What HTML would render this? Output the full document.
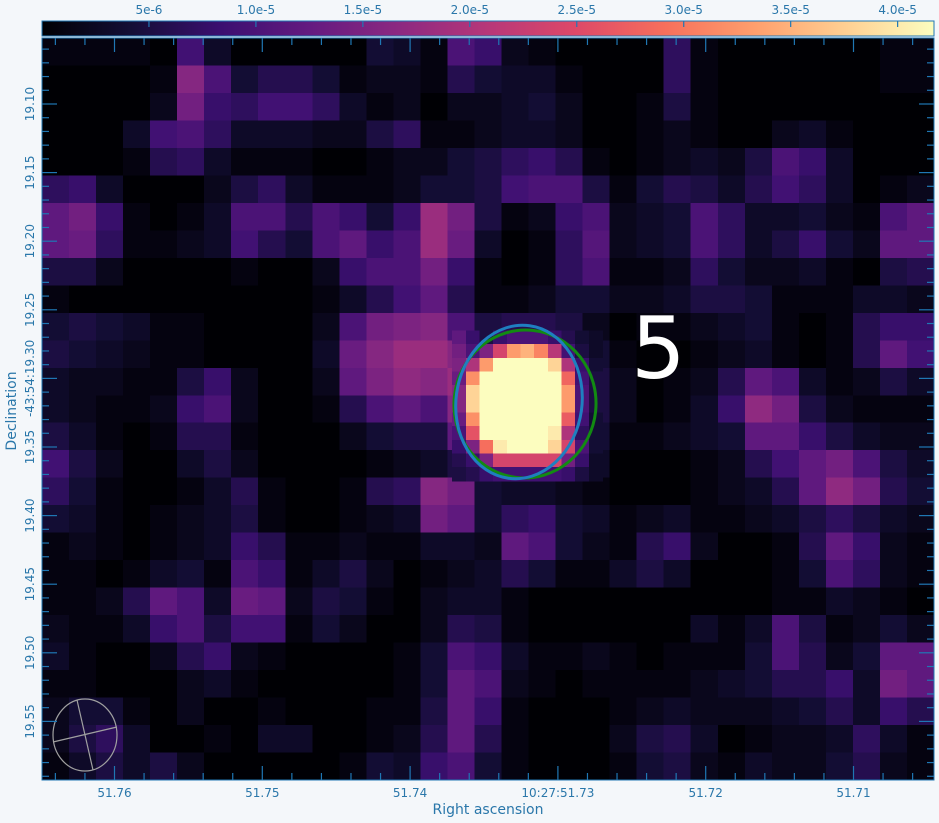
<!DOCTYPE html>
<html><head><meta charset="utf-8"><style>
html,body{margin:0;padding:0;background:#f4f7fa;}
svg{display:block;font-family:"DejaVu Sans","Liberation Sans",sans-serif;}
</style></head><body>
<svg id="chart" width="939" height="823" viewBox="0 0 939 823" xmlns="http://www.w3.org/2000/svg">
<defs>
<linearGradient id="magma" x1="0" x2="1" y1="0" y2="0">
<stop offset="0" stop-color="#000004"/><stop offset="0.1" stop-color="#140e36"/><stop offset="0.2" stop-color="#3b0f70"/><stop offset="0.3" stop-color="#641a80"/><stop offset="0.4" stop-color="#8c2981"/><stop offset="0.5" stop-color="#b73779"/><stop offset="0.6" stop-color="#de4968"/><stop offset="0.7" stop-color="#f7705c"/><stop offset="0.8" stop-color="#fe9f6d"/><stop offset="0.9" stop-color="#fecf92"/><stop offset="1" stop-color="#fcfdbf"/>
</linearGradient>
<clipPath id="plotclip"><rect x="42" y="38" width="892" height="742"/></clipPath>
</defs>
<g id="cells" clip-path="url(#plotclip)"></g>
<g id="finecells" clip-path="url(#plotclip)"></g>
<g id="overlay" clip-path="url(#plotclip)">
<ellipse cx="525" cy="404" rx="71" ry="74" transform="rotate(6 525 404)" fill="none" stroke="#128a12" stroke-width="3"/>
<ellipse cx="519" cy="402" rx="63" ry="77" transform="rotate(8 519 402)" fill="none" stroke="#1f7fc0" stroke-width="3"/>
<text x="631" y="378" font-size="86" fill="#ffffff">5</text>
<g>
<ellipse cx="85" cy="735" rx="32" ry="36" fill="none" stroke="#a0a0a0" stroke-width="1.2"/>
<line x1="77" y1="700" x2="93" y2="770" stroke="#a0a0a0" stroke-width="1.2"/>
<line x1="53" y1="742" x2="117" y2="727" stroke="#a0a0a0" stroke-width="1.2"/>
</g>
</g>
<rect x="42" y="38" width="892" height="742" fill="none" stroke="#1f77b4" stroke-width="1"/>
<g id="ticks"></g>
<g id="labels" font-size="12" fill="#2a77aa"></g>
<rect x="42" y="21" width="892" height="15" fill="url(#magma)" stroke="#1f77b4" stroke-width="1"/>
<g id="cbticks"></g>
<text x="16" y="411" font-size="14" fill="#2a77aa" text-anchor="middle" transform="rotate(-90 16 411)">Declination</text>
<text x="488" y="814" font-size="14" fill="#2a77aa" text-anchor="middle">Right ascension</text>
</svg>
<script>
// intensity grid in units of 1e-6 (33 columns x 27 rows)
const row0=[1,1,1,1,0,9,3,0,0,0,0,0,4,3,1,10,8,2,1,0,0,0,0,7,1,0,0,0,0,0,0,1,1];
const row1=[0,0,0,0,1,16,10,4,6,6,4,1,2,2,1,6,4,3,3,1,0,0,0,7,1,0,0,0,0,0,0,1,1];
const row2=[0,0,0,0,2,14,8,7,9,9,7,3,1,2,0,2,2,3,4,2,0,0,1,5,1,0,0,0,0,0,0,0,0];
const row3=[0,0,0,3,9,10,7,3,3,3,2,2,5,7,1,1,2,3,3,2,0,0,1,2,1,0,0,2,3,1,0,0,0];
const row4=[0,0,0,1,6,7,3,1,1,1,0,0,1,2,2,4,5,7,8,6,1,0,1,2,3,2,5,10,8,3,0,0,0];
const row5=[7,8,3,0,0,0,2,5,7,3,1,1,1,2,4,4,5,9,10,10,5,1,4,6,5,3,6,9,7,3,0,1,2];
const row6=[12,14,8,1,0,1,3,10,10,6,10,8,4,8,18,14,5,1,2,8,10,2,3,4,10,7,3,3,4,2,1,10,12];
const row7=[12,13,7,1,1,2,3,9,6,4,10,12,8,10,18,13,3,0,1,7,11,2,3,4,10,7,3,5,8,4,2,12,12];
const row8=[5,5,2,0,0,0,0,1,0,0,2,8,10,10,14,8,1,0,1,7,10,1,1,2,7,4,2,2,3,1,0,5,6];
const row9=[1,0,0,0,0,0,0,0,0,0,1,3,6,9,12,6,1,1,2,4,4,2,2,3,5,5,4,1,1,1,3,3,2];
const row10=[4,5,4,3,1,1,0,0,0,0,2,10,14,15,16,10,5,6,6,5,2,0,1,1,2,3,4,1,0,1,6,8,8];
const row11=[5,4,3,2,1,1,0,0,0,0,3,13,16,18,18,16,28,38,38,30,4,1,0,0,1,2,3,1,0,1,6,12,9];
const row12=[3,2,2,1,1,5,8,2,0,0,2,12,15,17,16,18,40,42,42,38,5,2,0,1,2,6,12,10,3,1,2,5,3];
const row13=[3,2,1,1,2,8,10,2,0,0,1,6,10,12,10,16,40,42,42,38,5,2,0,1,3,8,17,14,5,2,1,1,1];
const row14=[5,3,1,0,1,6,6,1,0,0,0,2,4,5,5,12,32,42,42,30,4,1,1,2,3,4,12,12,8,5,3,2,2];
const row15=[9,5,2,0,0,3,5,2,0,0,0,0,1,2,3,5,14,22,20,14,3,0,0,0,1,2,6,9,12,14,10,5,3];
const row16=[7,4,1,0,0,1,3,6,1,0,0,1,6,7,16,14,4,3,3,2,1,0,0,0,1,2,3,6,12,17,14,6,4];
const row17=[4,3,1,0,1,2,3,5,1,0,0,1,2,3,14,12,4,7,8,4,3,1,2,3,1,1,2,3,5,7,5,3,2];
const row18=[1,2,1,0,1,2,3,8,6,1,1,2,1,1,3,3,2,12,10,4,2,1,6,8,2,0,0,1,6,12,8,2,1];
const row19=[1,1,0,1,3,4,1,10,8,1,3,5,2,0,1,2,3,6,4,1,1,3,5,3,0,0,0,1,4,10,7,2,1];
const row20=[1,1,2,6,12,10,3,13,12,2,5,4,1,0,2,3,3,1,0,0,0,0,0,0,0,0,0,1,1,3,2,1,0];
const row21=[2,1,1,3,8,10,5,9,9,1,4,2,0,0,2,6,5,1,0,0,0,0,0,0,3,1,3,10,5,1,2,4,2];
const row22=[3,1,0,0,2,6,8,2,1,0,0,0,0,1,4,10,8,3,1,1,2,1,0,1,1,1,4,10,6,2,4,12,12];
const row23=[1,1,0,0,0,2,3,1,0,0,0,0,0,1,4,12,10,2,1,0,1,1,1,1,2,3,4,6,6,8,3,14,12];
const row24=[2,4,4,1,0,2,0,0,1,0,0,0,1,1,5,12,8,1,0,0,0,1,2,3,2,2,2,3,4,6,3,8,6];
const row25=[2,5,7,3,0,0,1,0,3,3,0,0,1,2,6,12,6,1,0,0,0,2,5,6,3,0,1,2,2,3,7,3,1];
const row26=[1,3,5,3,5,2,0,0,0,0,0,1,4,3,8,10,4,1,0,0,0,1,4,5,2,1,3,2,2,4,6,2,1];
const grid=[row0,row1,row2,row3,row4,row5,row6,row7,row8,row9,row10,row11,row12,row13,row14,row15,row16,row17,row18,row19,row20,row21,row22,row23,row24,row25,row26];
// native-resolution pixels around the bright source (units 1e-6), 11x11
const src0=[12,8,5,8,10,10,10,8,6,4,3];
const src1=[14,10,15,24,33,35,31,21,9,5,3];
const src2=[15,20,33,42,42,42,42,38,20,8,4];
const src3=[13,32,42,42,42,42,42,42,28,9,5];
const src4=[16,38,42,42,42,42,42,42,33,10,5];
const src5=[16,38,42,42,42,42,42,42,33,10,5];
const src6=[13,32,42,42,42,42,42,42,27,9,4];
const src7=[10,26,42,42,42,42,42,40,20,7,4];
const src8=[8,15,29,40,42,42,42,38,24,10,4];
const src9=[6,8,15,24,24,24,24,24,14,8,3];
const src10=[5,6,8,9,9,9,9,9,8,5,3];
const srcGrid=[src0,src1,src2,src3,src4,src5,src6,src7,src8,src9,src10];
const xTickLabels=["51.76","51.75","51.74","10:27:51.73","51.72","51.71"];
const yTickLabels=["19.10","19.15","19.20","19.25","-43:54:19.30","19.35","19.40","19.45","19.50","19.55"];
const cbTickValues=[5,10,15,20,25,30,35,40];
const cbTickLabels=["5e-6","1.0e-5","1.5e-5","2.0e-5","2.5e-5","3.0e-5","3.5e-5","4.0e-5"];

const NS="http://www.w3.org/2000/svg";
const PX0=42,PY0=38,PW=892,PH=742,VMAX=41.7;
const nCols=grid[0].length,nRows=grid.length;
const cw=PW/nCols,ch=PH/nRows;
const xCell=i=>PX0+i*cw, yCell=j=>PY0+j*ch;
const FINE=13.67, FX0=PX0+30*FINE, FY0=PY0+21.4*FINE;
const xFine=i=>FX0+i*FINE, yFine=j=>FY0+j*FINE;
const cbX=v=>42+v/VMAX*892;
const stops=[[0,0,4],[20,14,54],[59,15,112],[100,26,128],[140,41,129],[183,55,121],[222,73,104],[247,112,92],[254,159,109],[254,207,146],[252,253,191]];
function magma(v){let t=Math.max(0,Math.min(1,v/VMAX))*10;let k=Math.min(9,Math.floor(t));let f=t-k;const a=stops[k],b=stops[k+1];
return "rgb("+a.map((c,i)=>Math.round(c+(b[i]-c)*f)).join(",")+")";}
const cells=document.getElementById("cells");
for(let j=0;j<nRows;j++){for(let i=0;i<nCols;i++){
const r=document.createElementNS(NS,"rect");
r.setAttribute("x",xCell(i));r.setAttribute("y",yCell(j));
r.setAttribute("width",cw+0.6);r.setAttribute("height",ch+0.6);
r.setAttribute("fill",magma(grid[j][i]));


cells.appendChild(r);}}
cells.setAttribute("shape-rendering","crispEdges");
const fine=document.getElementById("finecells");
for(let j=0;j<srcGrid.length;j++){for(let i=0;i<srcGrid[j].length;i++){
const r=document.createElementNS(NS,"rect");
r.setAttribute("x",xFine(i));r.setAttribute("y",yFine(j));
r.setAttribute("width",FINE+0.5);r.setAttribute("height",FINE+0.5);
r.setAttribute("fill",magma(srcGrid[j][i]));


fine.appendChild(r);}}
fine.setAttribute("shape-rendering","crispEdges");

const ticks=document.getElementById("ticks");
function line(x1,y1,x2,y2){const l=document.createElementNS(NS,"line");
l.setAttribute("x1",x1);l.setAttribute("y1",y1);l.setAttribute("x2",x2);l.setAttribute("y2",y2);
l.setAttribute("stroke","#1f77b4");l.setAttribute("stroke-width","1.2");ticks.appendChild(l);}
const xMajor0=114.5,xStep=147.8;
for(let k=-2;k<=30;k++){const x=xMajor0+k*xStep/5;if(x<=PX0||x>=PX0+PW)continue;const L=(k%5===0)?14:7;
line(x,PY0+PH,x,PY0+PH-L);line(x,PY0,x,PY0+L);}
const yMajor0=104,yStep=68.6;
for(let k=-5;k<=55;k++){const y=yMajor0+k*yStep/5;if(y<=PY0||y>=PY0+PH)continue;const L=(((k%5)+5)%5===0)?15:7;
line(PX0,y,PX0+L,y);line(PX0+PW,y,PX0+PW-L,y);}
const labels=document.getElementById("labels");
xTickLabels.forEach((s,k)=>{const t=document.createElementNS(NS,"text");
t.setAttribute("x",xMajor0+k*xStep);t.setAttribute("y",797);t.setAttribute("text-anchor","middle");t.textContent=s;


labels.appendChild(t);});
yTickLabels.forEach((s,k)=>{const t=document.createElementNS(NS,"text");const y=yMajor0+k*yStep;
t.setAttribute("x",34);t.setAttribute("y",y);t.setAttribute("text-anchor","middle");
t.setAttribute("transform","rotate(-90 34 "+y+")");t.textContent=s;


labels.appendChild(t);});
const cbt=document.getElementById("cbticks");
cbTickValues.forEach((v,k)=>{const x=cbX(v);const l=document.createElementNS(NS,"line");
l.setAttribute("x1",x);l.setAttribute("x2",x);l.setAttribute("y1",21);l.setAttribute("y2",27);
l.setAttribute("stroke","#1f77b4");l.setAttribute("stroke-width","1.2");cbt.appendChild(l);
const t=document.createElementNS(NS,"text");t.setAttribute("x",x);t.setAttribute("y",14);
t.setAttribute("text-anchor","middle");t.setAttribute("font-size","12");t.setAttribute("fill","#2a77aa");
t.textContent=cbTickLabels[k];


cbt.appendChild(t);});
</script>
</body></html>
